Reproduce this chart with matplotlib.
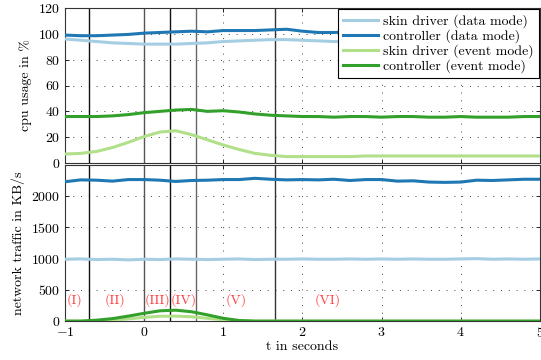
import numpy as np
import matplotlib
matplotlib.use("Agg")
import matplotlib.pyplot as plt

plt.rcParams['font.family'] = 'serif'
plt.rcParams['font.serif'] = ['cmr10', 'DejaVu Serif']
plt.rcParams['mathtext.fontset'] = 'cm'
plt.rcParams['axes.formatter.use_mathtext'] = True
plt.rcParams['font.size'] = 10

# time grid (seconds)
t = np.linspace(-1, 5, 31)

# cpu usage in %
skin_data_cpu = [96, 95, 94, 93, 92.5, 92, 92, 92, 92.5, 93, 94, 94.5, 95, 95.5, 95.5, 95,
                 94.5, 94, 94, 94, 94, 94, 94, 94, 94, 94, 94, 94, 94, 94, 94]
ctrl_data_cpu = [99, 98.5, 98.5, 99, 99.5, 100.5, 101, 101.5, 102, 101.5, 102.5, 102.5, 102.5, 103, 103.5, 102,
                 101, 101, 101.5, 101.5, 101.5, 101.5, 101.5, 101.5, 101.5, 101.5, 101.5, 101.5, 101.5, 101.5, 101.5]
skin_event_cpu = [7, 7.5, 9, 12, 16, 20.5, 24, 25, 22, 18, 14, 10.5, 7.5, 6, 5, 5,
                  5, 5, 5, 5.5, 5.5, 5.5, 5.5, 5.5, 5.5, 5.5, 5.5, 5.5, 5.5, 5.5, 5.5]
ctrl_event_cpu = [36, 36, 36, 36.5, 37.5, 39, 40, 41, 41.5, 40, 40.5, 39.5, 38, 37, 36.5, 36,
                  36, 35.5, 36, 36, 35.5, 36, 36, 35.5, 35.5, 36, 35.5, 35.5, 35.5, 36, 36]

# network traffic in KB/s
skin_data_net = [990, 995, 985, 990, 980, 990, 985, 995, 990, 985, 990, 995, 985, 990, 990, 995,
                 990, 990, 995, 990, 995, 990, 995, 990, 990, 995, 1000, 990, 995, 990, 995]
ctrl_data_net = [2230, 2260, 2255, 2240, 2265, 2265, 2255, 2235, 2250, 2255, 2265, 2265, 2285, 2270, 2260, 2265,
                 2260, 2270, 2250, 2265, 2265, 2240, 2245, 2225, 2220, 2225, 2255, 2250, 2260, 2270, 2270]
skin_event_net = [0, 0, 5, 15, 35, 60, 78, 80, 70, 45, 20, 5, 0, 0, 0, 0,
                  0, 0, 0, 0, 0, 0, 0, 0, 0, 0, 0, 0, 0, 0, 0]
ctrl_event_net = [0, 0, 15, 40, 80, 125, 165, 175, 150, 100, 45, 10, 0, 0, 0, 0,
                  0, 0, 0, 0, 0, 0, 0, 0, 0, 0, 0, 0, 0, 0, 0]

labels = ["skin driver (data mode)", "controller (data mode)",
          "skin driver (event mode)", "controller (event mode)"]
colors = ["#a6cee3", "#1f78b4", "#b2df8a", "#33a02c"]

# phase boundaries and names
phase_t = [-0.7, 0.0, 0.33, 0.66, 1.65]
phase_col = ["#111111", "#555555", "#111111", "#666666", "#333333"]
phase_names = ["(I)", "(II)", "(III)", "(IV)", "(V)", "(VI)"]
phase_text_t = [-0.88, -0.37, 0.17, 0.5, 1.16, 2.32]

fig = plt.figure(figsize=(5.41, 3.6), dpi=100)
ax1 = fig.add_axes([0.120, 0.547, 0.878, 0.431])
ax2 = fig.add_axes([0.120, 0.108, 0.878, 0.434])

for ax, series in [(ax1, [skin_data_cpu, ctrl_data_cpu, skin_event_cpu, ctrl_event_cpu]),
                   (ax2, [skin_data_net, ctrl_data_net, skin_event_net, ctrl_event_net])]:
    for y, c, lab in zip(series, colors, labels):
        ax.plot(t, y, color=c, lw=2.2, label=lab, zorder=3)
    for pt, pc in zip(phase_t, phase_col):
        ax.axvline(pt, color=pc, lw=1.0, zorder=2)
    ax.set_xlim(-1, 5)
    ax.grid(True, linestyle=(0, (1, 7)), color="#444444", lw=0.7)
    ax.tick_params(direction="in", top=True, right=True, length=3, width=0.6)
    for s in ax.spines.values():
        s.set_linewidth(0.8)
        s.set_color("#333333")

ax1.set_ylim(0, 120)
ax1.set_yticks([0, 20, 40, 60, 80, 100, 120])
ax1.set_xticks([-1, 0, 1, 2, 3, 4, 5])
ax1.tick_params(labelbottom=False)
ax1.set_ylabel("cpu usage in %")
leg = ax1.legend(loc="upper left", bbox_to_anchor=(0.575, 0.991), borderaxespad=0,
                 fancybox=False, edgecolor="black", framealpha=1,
                 borderpad=0.35, handlelength=2.5, handletextpad=0.4,
                 labelspacing=0.1, fontsize=10)
leg.get_frame().set_linewidth(0.8)

ax2.set_ylim(0, 2500)
ax2.set_yticks([0, 500, 1000, 1500, 2000])
ax2.set_xticks([-1, 0, 1, 2, 3, 4, 5])
ax2.set_ylabel("network traffic in KB/s")
ax2.set_xlabel("t in seconds", labelpad=1)
for name, x in zip(phase_names, phase_text_t):
    ax2.text(x, 340, name, color="#ff4040", ha="center", va="center", fontsize=10)

fig.savefig("out.png", dpi=100)
